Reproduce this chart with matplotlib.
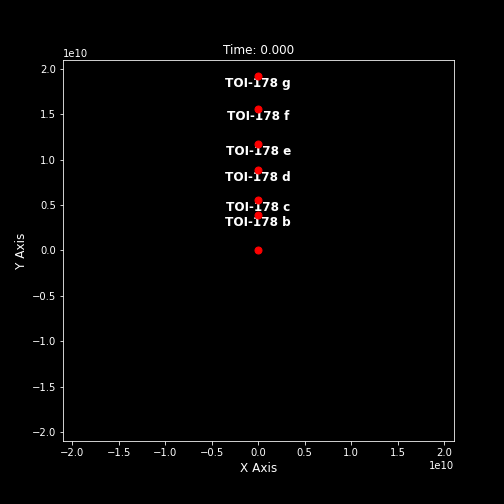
import matplotlib
matplotlib.use("Agg")
import matplotlib.pyplot as plt

# positions (m) at t = 0
names = ["TOI-178 b", "TOI-178 c", "TOI-178 d", "TOI-178 e", "TOI-178 f", "TOI-178 g"]
planet_x = [0.0, 0.0, 0.0, 0.0, 0.0, 0.0]
planet_y = [0.39e10, 0.555e10, 0.885e10, 1.17e10, 1.56e10, 1.92e10]
star_x = [0.0]
star_y = [0.0]

plt.style.use("dark_background")
fig = plt.figure(figsize=(7, 7), dpi=72)
ax = fig.add_axes([0.125, 0.125, 0.775, 0.756])

ax.plot(star_x, star_y, "o", color="red", markersize=7, zorder=4)
ax.plot(planet_x, planet_y, "o", color="red", markersize=7, linestyle="none", zorder=4)
for name, x, y in zip(names, planet_x, planet_y):
    ax.annotate(name, (x, y), xytext=(0, -1), textcoords="offset points",
                ha="center", va="top", fontsize=12,
                fontweight="bold", color="white")

ax.set_xlim(-2.1e10, 2.1e10)
ax.set_ylim(-2.1e10, 2.1e10)
ax.set_xlabel("X Axis", fontsize=12)
ax.set_ylabel("Y Axis", fontsize=12)
ax.set_title("Time: 0.000", fontsize=12)

fig.savefig("out.png", dpi=72)
